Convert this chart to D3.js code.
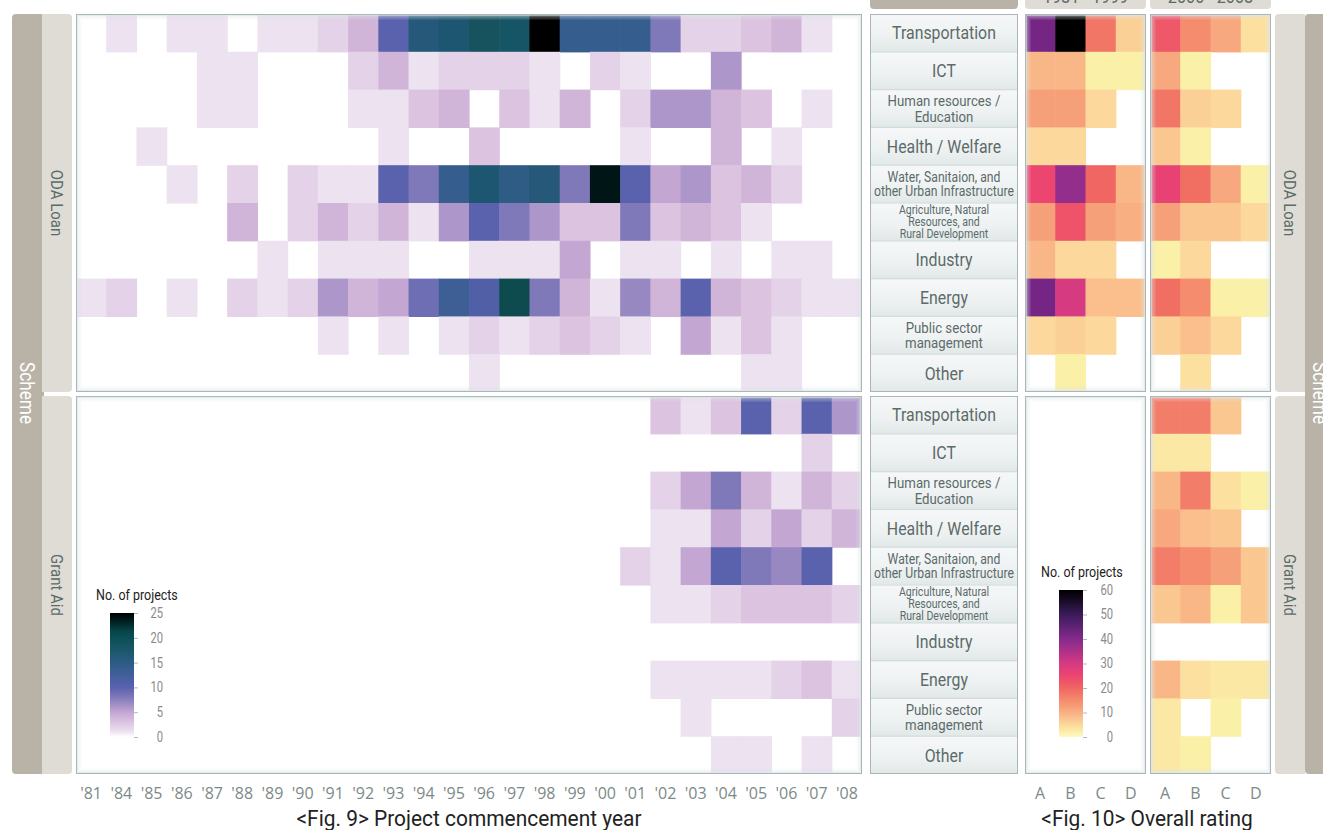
<!DOCTYPE html>
<html>
<head>
<meta charset="utf-8">
<script src="https://cdnjs.cloudflare.com/ajax/libs/d3/7.8.5/d3.min.js"></script>
<style>
  body { margin: 0; background: #fff; }
  svg { display: block; }
</style>
</head>
<body>
<svg id="chart" width="1323" height="830"></svg>
<script>
// ---- data ----
const years = ["'81","'84","'85","'86","'87","'88","'89","'90","'91","'92","'93","'94","'95",
               "'96","'97","'98","'99","'00","'01","'02","'03","'04","'05","'06","'07","'08"];
const sectorLines = [
  ["Transportation"], ["ICT"], ["Human resources /", "Education"], ["Health / Welfare"],
  ["Water, Sanitaion, and", "other Urban Infrastructure"],
  ["Agriculture, Natural", "Resources, and", "Rural Development"],
  ["Industry"], ["Energy"], ["Public sector", "management"], ["Other"]
];
const ratings = ["A", "B", "C", "D"];
const periods = ["1981 - 1999", "2000 - 2008"];
const schemes = ["ODA Loan", "Grant Aid"];

// Fig. 9: number of projects by commencement year (rows = sectors, cols = years)
const odaLoanProjects = [
  [0,1,0,1,1,0,1,1,2,4,10,16,17,19,18,25,14,14,14,8,2,2,3,4,1,0],
  [0,0,0,0,1,1,0,0,0,2,4,1,2,2,2,1,0,2,1,0,0,6,0,0,0,0],
  [0,0,0,0,1,1,0,0,0,1,1,3,4,0,3,1,4,0,2,6,6,4,3,0,1,0],
  [0,0,1,0,0,0,0,0,0,0,1,0,0,3,0,0,0,0,1,0,0,4,0,1,0,0],
  [0,0,0,1,0,2,0,2,1,1,10,8,14,17,15,16,8,24,10,5,6,3,4,2,0,0],
  [0,0,0,0,0,4,0,2,4,2,4,1,6,10,8,6,3,3,8,3,4,3,1,0,0,0],
  [0,0,0,0,0,0,1,0,1,1,1,0,0,1,1,1,5,0,1,1,0,1,0,1,1,0],
  [1,2,0,1,0,2,1,2,6,4,5,9,13,11,21,8,4,1,7,4,10,4,3,2,1,1],
  [0,0,0,0,0,0,0,0,1,0,1,0,1,2,1,2,3,2,1,0,5,1,3,1,0,0],
  [0,0,0,0,0,0,0,0,0,0,0,0,0,1,0,0,0,0,0,0,0,0,1,1,0,0]
];
const grantAidProjects = [
  [0,0,0,0,0,0,0,0,0,0,0,0,0,0,0,0,0,0,0,3,1,3,10,2,10,6],
  [0,0,0,0,0,0,0,0,0,0,0,0,0,0,0,0,0,0,0,0,0,0,0,0,2,0],
  [0,0,0,0,0,0,0,0,0,0,0,0,0,0,0,0,0,0,0,2,5,8,4,1,4,2],
  [0,0,0,0,0,0,0,0,0,0,0,0,0,0,0,0,0,0,0,1,1,5,2,5,2,4],
  [0,0,0,0,0,0,0,0,0,0,0,0,0,0,0,0,0,0,2,1,5,10,8,7,10,0],
  [0,0,0,0,0,0,0,0,0,0,0,0,0,0,0,0,0,0,0,1,1,2,3,3,3,2],
  [0,0,0,0,0,0,0,0,0,0,0,0,0,0,0,0,0,0,0,0,0,0,0,0,0,0],
  [0,0,0,0,0,0,0,0,0,0,0,0,0,0,0,0,0,0,0,1,1,1,1,2,3,1],
  [0,0,0,0,0,0,0,0,0,0,0,0,0,0,0,0,0,0,0,0,1,0,0,0,0,2],
  [0,0,0,0,0,0,0,0,0,0,0,0,0,0,0,0,0,0,0,0,0,1,1,0,1,0]
];

// Fig. 10: number of projects by overall rating A-D
const odaLoanRating8199 = [[42,60,18,6],[9,9,2,2],[12,12,5,0],[5,5,0,0],[25,38,20,9],
                           [12,23,12,10],[9,5,5,0],[42,30,8,8],[5,6,5,0],[0,2,0,0]];
const odaLoanRating0008 = [[22,15,11,4],[11,2,0,0],[18,6,5,0],[7,2,0,0],[26,19,11,2],
                           [12,7,7,5],[2,5,0,0],[19,15,2,2],[6,8,5,0],[0,4,0,0]];
const grantAidRating8199 = [[0,0,0,0],[0,0,0,0],[0,0,0,0],[0,0,0,0],[0,0,0,0],
                            [0,0,0,0],[0,0,0,0],[0,0,0,0],[0,0,0,0],[0,0,0,0]];
const grantAidRating0008 = [[17,17,7,0],[3,3,0,0],[9,17,4,2],[11,8,7,0],[17,15,12,7],
                            [7,9,2,7],[0,0,0,0],[9,4,3,3],[3,0,2,0],[3,2,0,0]];

const legend9Ticks = [0, 5, 10, 15, 20, 25];
const legend10Ticks = [0, 10, 20, 30, 40, 50, 60];

// ---- layout ----
const svg = d3.select("#chart");
const defs = svg.append("defs");
const condFont = "Roboto, 'Liberation Sans', sans-serif";
const tickFont = "'Open Sans', 'DejaVu Sans', sans-serif";
const labelGrey = "#5b6b69";
const stripDark = "#b9b3a7", stripLight = "#dfdcd5", panelStroke = "#a9b7b7";

const panelTop = [14, 396], panelH = 378;
const x9 = d3.scaleBand().domain(years).range([76, 862]);
const xRate = [d3.scaleBand().domain(ratings).range([1025, 1146]),
               d3.scaleBand().domain(ratings).range([1150, 1271])];
const yRow = panelTop.map(t => d3.scaleBand().domain(d3.range(sectorLines.length)).range([t, t + panelH]));

const color9 = d3.scaleLinear()
  .domain([0, 1, 3, 5, 8, 10, 14, 18, 21, 25])
  .range(["#ffffff","#ece2f0","#dcc3e0","#c4a6d2","#8079b9","#5a62ae","#345d8e","#175566","#074b4f","#000000"])
  .clamp(true);
const color10 = d3.scaleLinear()
  .domain([0, 2, 5, 8, 12, 16, 20, 25, 30, 40, 50, 60])
  .range(["#fffac2","#fbf0a8","#fcd89c","#fabf8c","#f6a07a","#f38568","#f06662","#ec4470","#d63a82","#842a8e","#3a1c5a","#000000"])
  .clamp(true);

// squeeze text horizontally to mimic a condensed face
function condense(sel, k) {
  sel.each(function() {
    const len = this.getComputedTextLength();
    d3.select(this).attr("textLength", len * k).attr("lengthAdjust", "spacingAndGlyphs");
  });
}

defs.append("filter").attr("id", "soft")
  .append("feGaussianBlur").attr("stdDeviation", 0.7);

const rowGrad = defs.append("linearGradient").attr("id", "rowGrad")
  .attr("x1", 0).attr("y1", 0).attr("x2", 0).attr("y2", 1);
rowGrad.append("stop").attr("offset", "0%").attr("stop-color", "#f5f7f8");
rowGrad.append("stop").attr("offset", "55%").attr("stop-color", "#eff2f3");
rowGrad.append("stop").attr("offset", "100%").attr("stop-color", "#e2e8e8");

// ---- side strips ----
const strips = svg.append("g");
function sideStrips(xDark, xLight, textDarkX, textLightX) {
  strips.append("rect").attr("x", xDark).attr("y", 14).attr("width", 30).attr("height", 760)
    .attr("rx", 4).attr("fill", stripDark);
  panelTop.forEach((t, s) => {
    strips.append("rect").attr("x", xLight).attr("y", t).attr("width", 30).attr("height", panelH)
      .attr("rx", 4).attr("fill", stripLight);
    strips.append("text").attr("transform", `translate(${textLightX},${t + panelH / 2}) rotate(90)`)
      .attr("text-anchor", "middle").attr("dominant-baseline", "central")
      .attr("font-family", condFont).attr("font-size", 17).attr("fill", labelGrey)
      .text(schemes[s]).call(condense, 0.88);
  });
  strips.append("text").attr("transform", `translate(${textDarkX},393) rotate(90)`)
    .attr("text-anchor", "middle").attr("dominant-baseline", "central")
    .attr("font-family", condFont).attr("font-size", 20).attr("fill", "#fff")
    .text("Scheme").call(condense, 0.86);
}
sideStrips(12, 42, 27, 57);
strips.append("rect").attr("x", 38).attr("y", 14).attr("width", 6).attr("height", 760).attr("fill", stripDark);
panelTop.forEach(t => strips.append("rect").attr("x", 42).attr("y", t).attr("width", 5).attr("height", panelH).attr("fill", stripLight));
sideStrips(1305, 1275, 1320, 1290);
panelTop.forEach(t => strips.append("rect").attr("x", 1298).attr("y", t).attr("width", 7).attr("height", panelH).attr("fill", stripLight));

// ---- headers at the top (cut by the page edge) ----
svg.append("rect").attr("x", 870).attr("y", -10).attr("width", 148).attr("height", 19).attr("rx", 4).attr("fill", stripDark);
periods.forEach((p, k) => {
  const r = xRate[k].range();
  svg.append("rect").attr("x", r[0]).attr("y", -10).attr("width", r[1] - r[0]).attr("height", 19)
    .attr("rx", 4).attr("fill", stripLight);
  svg.append("text").attr("x", (r[0] + r[1]) / 2).attr("y", 3).attr("text-anchor", "middle")
    .attr("font-family", condFont).attr("font-size", 18).attr("fill", labelGrey)
    .text(p).call(condense, 0.9);
});

// ---- panels ----
function panel(x0, x1, y0, y1, drawCells) {
  const id = "clip" + Math.round(x0) + "_" + Math.round(y0);
  defs.append("clipPath").attr("id", id).append("rect")
    .attr("x", x0).attr("y", y0).attr("width", x1 - x0).attr("height", y1 - y0);
  const g = svg.append("g");
  g.append("rect").attr("x", x0).attr("y", y0).attr("width", x1 - x0).attr("height", y1 - y0).attr("fill", "#fff");
  const cells = g.append("g").attr("clip-path", `url(#${id})`).append("g").attr("filter", "url(#soft)");
  drawCells(cells);
  const sh = g.append("g").attr("clip-path", `url(#${id})`);
  [1, 2.5, 4.5].forEach((d, i) => {
    sh.append("rect").attr("x", x0 + d).attr("y", y0 + d)
      .attr("width", x1 - x0 - 2 * d).attr("height", y1 - y0 - 2 * d)
      .attr("fill", "none").attr("stroke", "#dfe6e8").attr("stroke-width", 2)
      .attr("stroke-opacity", [0.7, 0.4, 0.2][i]);
  });
  g.append("rect").attr("x", x0 + 0.5).attr("y", y0 + 0.5).attr("width", x1 - x0 - 1).attr("height", y1 - y0 - 1)
    .attr("fill", "none").attr("stroke", panelStroke);
}

// Fig. 9 heatmaps
[odaLoanProjects, grantAidProjects].forEach((rows, s) => {
  const cellData = rows.flatMap((r, i) => r.map((v, j) => ({ i, j, v }))).filter(d => d.v > 0);
  panel(76, 862, panelTop[s], panelTop[s] + panelH, g => {
    g.selectAll("rect").data(cellData).join("rect")
      .attr("x", d => x9(years[d.j])).attr("y", d => yRow[s](d.i))
      .attr("width", x9.bandwidth() + 0.6).attr("height", yRow[s].bandwidth() + 0.6)
      .attr("fill", d => color9(d.v));
  });
});

// Fig. 10 heatmaps
const ratingData = [[odaLoanRating8199, odaLoanRating0008], [grantAidRating8199, grantAidRating0008]];
ratingData.forEach((pair, s) => {
  pair.forEach((rows, k) => {
    const cellData = rows.flatMap((r, i) => r.map((v, j) => ({ i, j, v }))).filter(d => d.v > 0);
    const r = xRate[k].range();
    panel(r[0], r[1], panelTop[s], panelTop[s] + panelH, g => {
      g.selectAll("rect").data(cellData).join("rect")
        .attr("x", d => xRate[k](ratings[d.j])).attr("y", d => yRow[s](d.i))
        .attr("width", xRate[k].bandwidth() + 0.6).attr("height", yRow[s].bandwidth() + 0.6)
        .attr("fill", d => color10(d.v));
    });
  });
});

// ---- sector label column ----
const lineStyle = { 1: { size: 18, lh: 0 }, 2: { size: 15, lh: 15.5 }, 3: { size: 12, lh: 12 } };
panelTop.forEach((t, s) => {
  const g = svg.append("g");
  g.append("rect").attr("x", 870).attr("y", t).attr("width", 148).attr("height", panelH).attr("fill", "#eef2f3");
  sectorLines.forEach((lines, i) => {
    const y0 = yRow[s](i), h = yRow[s].bandwidth();
    g.append("rect").attr("x", 871).attr("y", y0 + 0.5).attr("width", 146).attr("height", h - 1).attr("fill", "url(#rowGrad)");
    if (i > 0) g.append("line").attr("x1", 871).attr("x2", 1017).attr("y1", y0).attr("y2", y0)
      .attr("stroke", "#d2dcdc").attr("stroke-width", 1.2);
    const st = lineStyle[lines.length];
    const cy = y0 + h / 2;
    const wide = i === 4;
    lines.forEach((ln, q) => {
      g.append("text").attr("x", 944)
        .attr("y", cy + (q - (lines.length - 1) / 2) * (wide ? 14 : st.lh))
        .attr("dy", "0.36em").attr("text-anchor", "middle")
        .attr("font-family", condFont).attr("font-size", wide ? 14.5 : st.size).attr("fill", labelGrey)
        .text(ln).call(condense, wide ? 0.84 : 0.88);
    });
  });
  g.append("rect").attr("x", 870.5).attr("y", t + 0.5).attr("width", 147).attr("height", panelH - 1)
    .attr("fill", "none").attr("stroke", panelStroke);
});

// ---- axes ----
function styleAxis(g) {
  g.select(".domain").remove();
  g.attr("font-family", tickFont).attr("font-size", 16).attr("color", "#7b8a88");
}
svg.append("g").attr("transform", "translate(0,788)")
  .call(d3.axisBottom(x9).tickSize(0).tickPadding(0)).call(styleAxis);
xRate.forEach(xs => {
  svg.append("g").attr("transform", "translate(0,788)")
    .call(d3.axisBottom(xs).tickSize(0).tickPadding(0)).call(styleAxis);
});

// ---- captions ----
svg.append("text").attr("x", 469).attr("y", 826).attr("text-anchor", "middle")
  .attr("font-family", condFont).attr("font-size", 22).attr("fill", "#222")
  .text("<Fig. 9> Project commencement year").call(condense, 0.95);
svg.append("text").attr("x", 1147).attr("y", 826).attr("text-anchor", "middle")
  .attr("font-family", condFont).attr("font-size", 22).attr("fill", "#222")
  .text("<Fig. 10> Overall rating").call(condense, 0.95);

// ---- colour legends ----
function legend(opt) {
  const ys = d3.scaleLinear().domain([0, opt.max]).range([opt.y1, opt.y0]);
  const gid = "lg" + opt.max;
  const grad = defs.append("linearGradient").attr("id", gid)
    .attr("x1", 0).attr("y1", 1).attr("x2", 0).attr("y2", 0);
  d3.range(0, 1.0001, 0.05).forEach(f => {
    grad.append("stop").attr("offset", f * 100 + "%").attr("stop-color", opt.color(f * opt.max));
  });
  const g = svg.append("g");
  g.append("text").attr("x", opt.titleX).attr("y", opt.titleY)
    .attr("font-family", condFont).attr("font-size", 14.5).attr("fill", "#222")
    .text("No. of projects").call(condense, 0.86);
  g.append("rect").attr("x", opt.x).attr("y", opt.y0).attr("width", 24).attr("height", opt.y1 - opt.y0)
    .attr("fill", `url(#${gid})`);
  const ax = g.append("g").attr("transform", `translate(${opt.x + 24},0)`)
    .call(d3.axisRight(ys).tickValues(opt.ticks).tickSize(4).tickPadding(3));
  ax.select(".domain").remove();
  ax.attr("font-family", condFont).attr("font-size", 14).attr("color", "#8a8a8a");
  ax.selectAll(".tick line").attr("stroke", "#b0b6c8");
  ax.selectAll(".tick text").attr("text-anchor", "end").attr("x", opt.labelRight).call(condense, 0.8);
}
legend({ x: 110, y0: 613, y1: 737, max: 25, ticks: legend9Ticks, color: color9,
         titleX: 96, titleY: 600, labelRight: 29 });
legend({ x: 1059, y0: 590, y1: 737, max: 60, ticks: legend10Ticks, color: color10,
         titleX: 1041, titleY: 577, labelRight: 30 });
</script>
</body>
</html>
